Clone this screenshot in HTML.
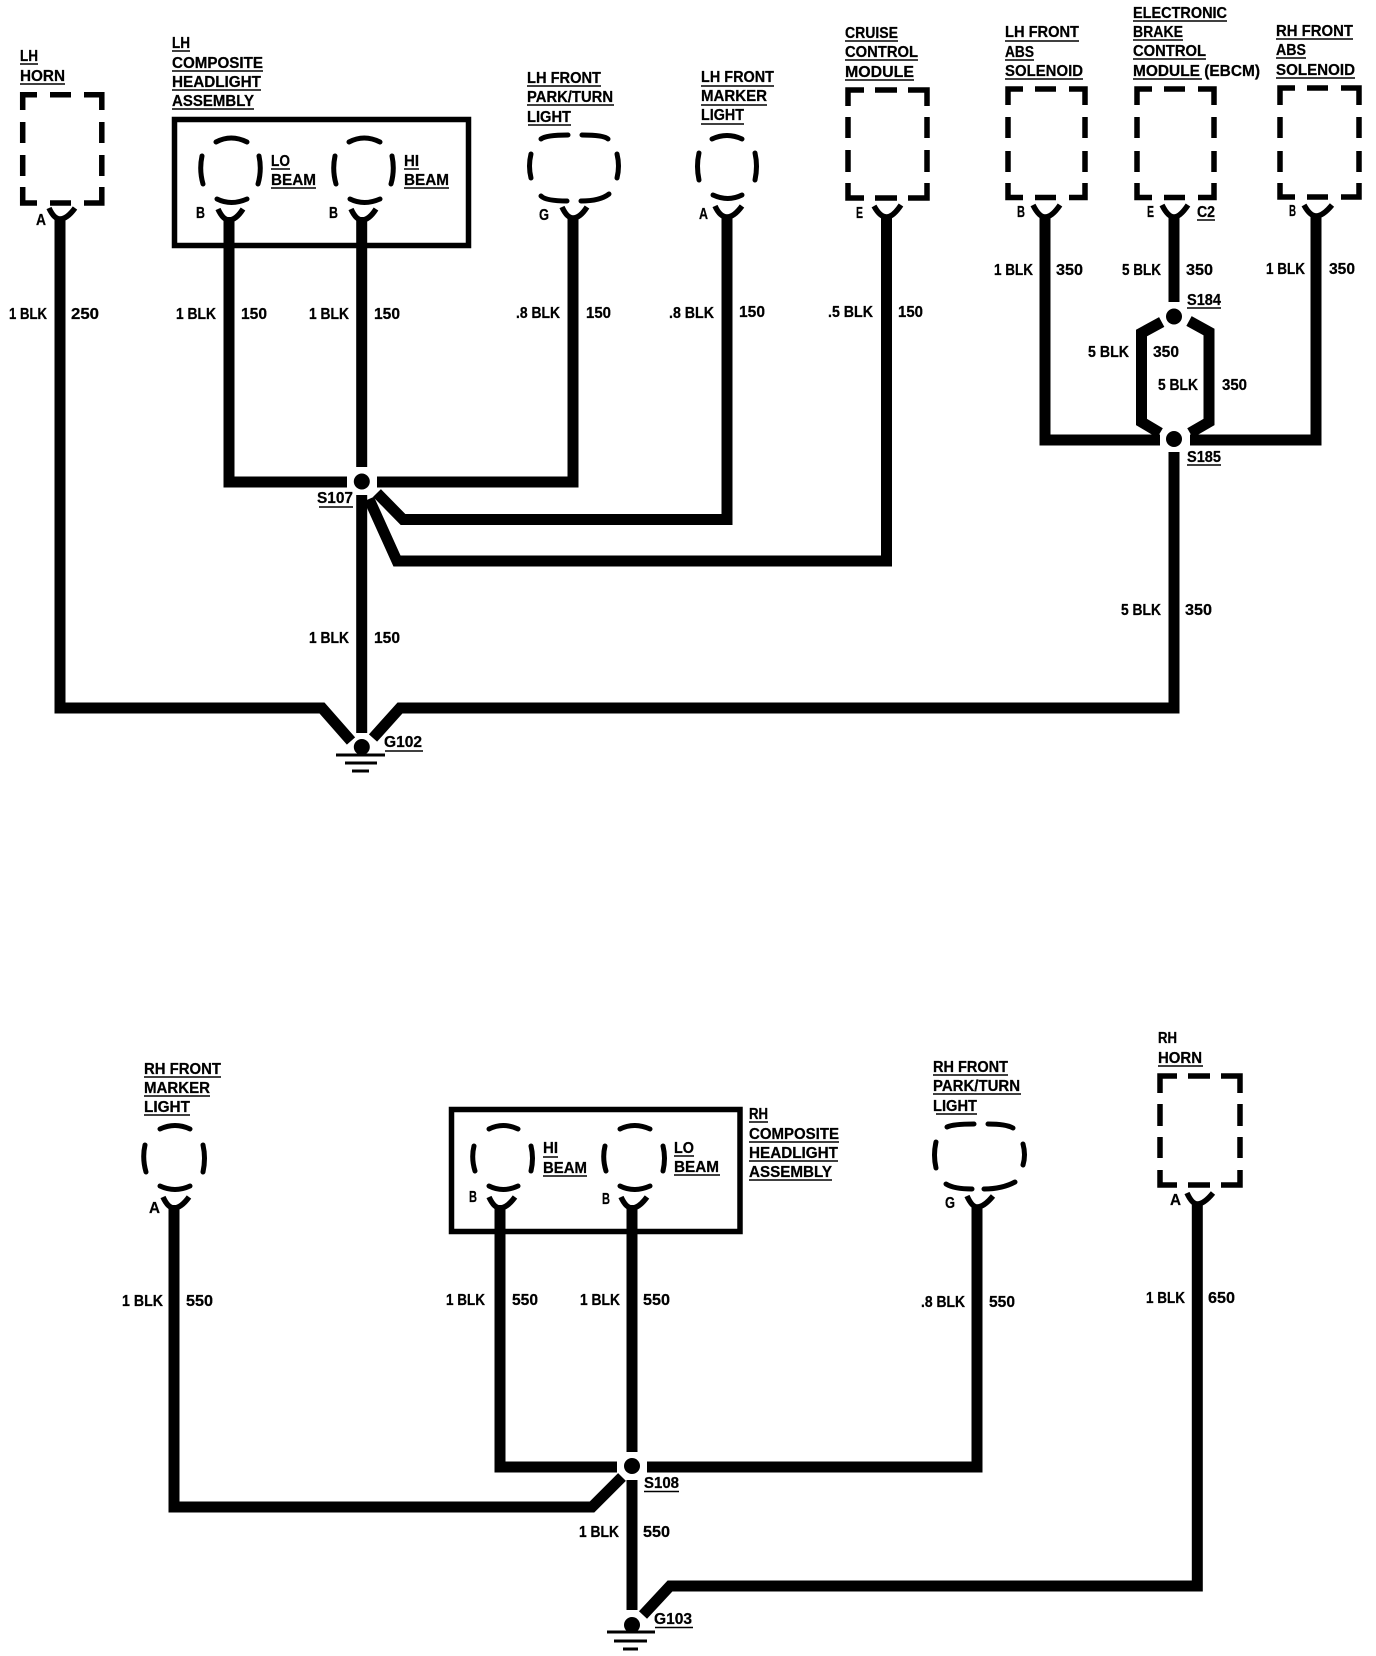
<!DOCTYPE html>
<html>
<head>
<meta charset="utf-8">
<style>
html,body{margin:0;padding:0;background:#fff;width:1376px;height:1656px;overflow:hidden}
svg{display:block}
text{font-family:"Liberation Sans",sans-serif;font-weight:bold;font-size:15.5px;fill:#000;stroke:#000;stroke-width:.25}
.w{fill:none;stroke:#000;stroke-width:11;stroke-linejoin:miter}
.d{fill:none;stroke:#000;stroke-width:5.5}
.a{fill:none;stroke:#000;stroke-width:5;stroke-linecap:round}
.y{fill:none;stroke:#000;stroke-width:5.5}
.u{fill:none;stroke:#000;stroke-width:1.6}
.b{fill:none;stroke:#000;stroke-width:5.5}
.g{fill:none;stroke:#000;stroke-width:3}
</style>
</head>
<body>
<svg xmlns="http://www.w3.org/2000/svg" width="1376" height="1656" viewBox="0 0 1376 1656">
<rect width="1376" height="1656" fill="#fff"/>

<!-- TOP WIRES -->
<path class="w" d="M60 217V708H322L351 741"/>
<path class="w" d="M229 217V482H347"/>
<path class="w" d="M573 217V482H377"/>
<path class="w" d="M361.700 217V467"/>
<path class="w" d="M361.700 495V733"/>
<path class="w" d="M377 493L403 519.500H727V217"/>
<path class="w" d="M369 499L397 561H886.500V217"/>
<path class="w" d="M373 738L400 708H1174V452"/>
<path class="w" d="M1045 217V440H1160"/>
<path class="w" d="M1174 217V302"/>
<path class="w" d="M1190 440H1316V217"/>
<path class="w" d="M1161.700 322L1141.500 333V422L1160 433"/>
<path class="w" d="M1189 321L1209 332V422L1190 433"/>
<circle cx="361.800" cy="481.500" r="8"/>
<circle cx="1174" cy="316.500" r="8"/>
<circle cx="1174" cy="439" r="8"/>
<circle cx="361.800" cy="747" r="8"/>
<path class="g" d="M336 755H385M345 763H377M352 771H369"/>

<!-- LH composite box -->
<rect class="b" x="174.500" y="119.500" width="294" height="126"/>

<!-- dashed boxes top -->
<path class="d" d="M22.700 110V94.700H37M50 94.700H71M84 94.700H101.800V110M22.700 122V143M22.700 155V176M101.800 122V143M101.800 155V176M22.700 187V203H37M50 203H71M84 203H101.800V187"/>
<path class="d" d="M848 106V90H864M875 90H897M908 90H927V106M848 117V138M848 150V172M927 117V138M927 150V172M848 183V198H864M875 198H897M908 198H927V183"/>
<path class="d" d="M1008 105V89H1023M1035 89H1056M1069 89H1085V105M1008 117V138M1008 151V172M1085 117V138M1085 151V172M1008 183V197.500H1023M1035 197.500H1056M1069 197.500H1085V183"/>
<path class="d" d="M1137 105V89H1152M1164 89H1185M1198 89H1214V105M1137 117V138M1137 151V172M1214 117V138M1214 151V172M1137 183V197.500H1152M1164 197.500H1185M1198 197.500H1214V183"/>
<path class="d" d="M1280 105V88H1295M1307 88H1328M1341 88H1359V105M1280 117V138M1280 151V172M1359 117V138M1359 151V172M1280 183V197H1295M1307 197H1328M1341 197H1359V183"/>
<path class="d" d="M1160 1093V1076H1177M1188 1076H1210M1221 1076H1240V1093M1160 1104V1126M1160 1137V1158M1240 1104V1126M1240 1137V1158M1160 1170V1185H1177M1188 1185H1210M1221 1185H1240V1170"/>

<!-- Bulbs top -->
<path class="a" d="M216 142Q231 134 247 142M202 156Q199 170 203 184M259 156Q262 170 258 184M217 199Q231 206 247 199"/>
<path class="a" d="M349 142Q364 134 380 142M335 156Q332 170 336 184M392 156Q395 170 391 184M350 199Q364 206 380 199"/>
<path class="a" d="M541 139Q546 135 568 135M582 135Q604 135 608 139M531 154Q528 166 531 178M617 154Q620 166 617 178M541 196Q546 201 567 201M581 201Q600 201 609 194"/>
<path class="a" d="M712 139Q727 132 742 139M699 153Q696 166 699 180M755 153Q758 166 755 180M713 195Q728 202 742 195"/>

<!-- Y connectors top -->
<path class="y" d="M49 208Q54 219 60 219Q67 219 75 208"/>
<path class="y" d="M218 209Q223 220 229 220Q236 220 243 209"/>
<path class="y" d="M351 209Q356 220 362 220Q369 220 376 209"/>
<path class="y" d="M562 207Q567 218 573 218Q580 218 587 207"/>
<path class="y" d="M715 206Q720 217 727 217Q734 217 742 206"/>
<path class="y" d="M874 206Q880 217 886.500 217Q893 217 901 205"/>
<path class="y" d="M1033 205Q1039 217 1045 217Q1052 217 1060 205"/>
<path class="y" d="M1162 205Q1168 217 1174 217Q1180 217 1188 205"/>
<path class="y" d="M1304 205Q1310 216 1316 216Q1323 216 1332 205"/>

<!-- TOP text -->
<text x="20" y="61" textLength="18" lengthAdjust="spacingAndGlyphs">LH</text>
<text x="20" y="81" textLength="45" lengthAdjust="spacingAndGlyphs">HORN</text>
<path class="u" d="M20 64H38M20 84H65"/>
<text x="172" y="48" textLength="18" lengthAdjust="spacingAndGlyphs">LH</text>
<text x="172" y="68" textLength="91" lengthAdjust="spacingAndGlyphs">COMPOSITE</text>
<text x="172" y="87" textLength="89" lengthAdjust="spacingAndGlyphs">HEADLIGHT</text>
<text x="172" y="106" textLength="82" lengthAdjust="spacingAndGlyphs">ASSEMBLY</text>
<path class="u" d="M172 51H190M172 71H263M172 90H261M172 109H254"/>
<text x="271" y="166" textLength="19" lengthAdjust="spacingAndGlyphs">LO</text>
<text x="271" y="185" textLength="45" lengthAdjust="spacingAndGlyphs">BEAM</text>
<path class="u" d="M271 169H290M271 188H316"/>
<text x="404" y="166" textLength="15" lengthAdjust="spacingAndGlyphs">HI</text>
<text x="404" y="185" textLength="45" lengthAdjust="spacingAndGlyphs">BEAM</text>
<path class="u" d="M404 169H419M404 188H449"/>
<text x="36" y="225" textLength="10" lengthAdjust="spacingAndGlyphs">A</text>
<text x="196" y="218" textLength="9" lengthAdjust="spacingAndGlyphs">B</text>
<text x="329" y="218" textLength="9" lengthAdjust="spacingAndGlyphs">B</text>
<text x="539" y="220" textLength="10" lengthAdjust="spacingAndGlyphs">G</text>
<text x="699" y="219" textLength="9" lengthAdjust="spacingAndGlyphs">A</text>
<text x="527" y="83" textLength="74" lengthAdjust="spacingAndGlyphs">LH FRONT</text>
<text x="527" y="102" textLength="86" lengthAdjust="spacingAndGlyphs">PARK/TURN</text>
<text x="527" y="122" textLength="44" lengthAdjust="spacingAndGlyphs">LIGHT</text>
<path class="u" d="M527 86H601M527 105H614M528 125H571"/>
<text x="701" y="82" textLength="73" lengthAdjust="spacingAndGlyphs">LH FRONT</text>
<text x="701" y="101" textLength="66" lengthAdjust="spacingAndGlyphs">MARKER</text>
<text x="701" y="120" textLength="43" lengthAdjust="spacingAndGlyphs">LIGHT</text>
<path class="u" d="M701 86H774M701 105H767M701 124H744"/>
<text x="845" y="38" textLength="53" lengthAdjust="spacingAndGlyphs">CRUISE</text>
<text x="845" y="57" textLength="73" lengthAdjust="spacingAndGlyphs">CONTROL</text>
<text x="845" y="77" textLength="69" lengthAdjust="spacingAndGlyphs">MODULE</text>
<path class="u" d="M845 41H898M845 60H918M845 80H914"/>
<text x="856" y="218" textLength="7" lengthAdjust="spacingAndGlyphs">E</text>
<text x="1005" y="37" textLength="74" lengthAdjust="spacingAndGlyphs">LH FRONT</text>
<text x="1005" y="57" textLength="29" lengthAdjust="spacingAndGlyphs">ABS</text>
<text x="1005" y="76" textLength="78" lengthAdjust="spacingAndGlyphs">SOLENOID</text>
<path class="u" d="M1005 41H1079M1005 60H1034M1005 79H1083"/>
<text x="1017" y="217" textLength="8" lengthAdjust="spacingAndGlyphs">B</text>
<text x="1133" y="18" textLength="94" lengthAdjust="spacingAndGlyphs">ELECTRONIC</text>
<text x="1133" y="37" textLength="50" lengthAdjust="spacingAndGlyphs">BRAKE</text>
<text x="1133" y="56" textLength="73" lengthAdjust="spacingAndGlyphs">CONTROL</text>
<text x="1133" y="76" textLength="127" lengthAdjust="spacingAndGlyphs">MODULE (EBCM)</text>
<path class="u" d="M1133 21H1227M1133 40H1183M1133 59H1206M1133 79H1202"/>
<text x="1147" y="217" textLength="7" lengthAdjust="spacingAndGlyphs">E</text>
<text x="1197" y="217" textLength="18" lengthAdjust="spacingAndGlyphs">C2</text>
<path class="u" d="M1197 220H1215"/>
<text x="1276" y="36" textLength="77" lengthAdjust="spacingAndGlyphs">RH FRONT</text>
<text x="1276" y="55" textLength="30" lengthAdjust="spacingAndGlyphs">ABS</text>
<text x="1276" y="75" textLength="79" lengthAdjust="spacingAndGlyphs">SOLENOID</text>
<path class="u" d="M1276 39H1353M1276 58H1306M1276 78H1355"/>
<text x="1289" y="216" textLength="7" lengthAdjust="spacingAndGlyphs">B</text>

<text x="9" y="319" textLength="38" lengthAdjust="spacingAndGlyphs">1 BLK</text>
<text x="71" y="319" textLength="28" lengthAdjust="spacingAndGlyphs">250</text>
<text x="176" y="319" textLength="40" lengthAdjust="spacingAndGlyphs">1 BLK</text>
<text x="241" y="319" textLength="26" lengthAdjust="spacingAndGlyphs">150</text>
<text x="309" y="319" textLength="40" lengthAdjust="spacingAndGlyphs">1 BLK</text>
<text x="374" y="319" textLength="26" lengthAdjust="spacingAndGlyphs">150</text>
<text x="516" y="318" textLength="44" lengthAdjust="spacingAndGlyphs">.8 BLK</text>
<text x="586" y="318" textLength="25" lengthAdjust="spacingAndGlyphs">150</text>
<text x="669" y="318" textLength="45" lengthAdjust="spacingAndGlyphs">.8 BLK</text>
<text x="739" y="317" textLength="26" lengthAdjust="spacingAndGlyphs">150</text>
<text x="828" y="317" textLength="45" lengthAdjust="spacingAndGlyphs">.5 BLK</text>
<text x="898" y="317" textLength="25" lengthAdjust="spacingAndGlyphs">150</text>
<text x="994" y="275" textLength="39" lengthAdjust="spacingAndGlyphs">1 BLK</text>
<text x="1056" y="275" textLength="27" lengthAdjust="spacingAndGlyphs">350</text>
<text x="1122" y="275" textLength="39" lengthAdjust="spacingAndGlyphs">5 BLK</text>
<text x="1186" y="275" textLength="27" lengthAdjust="spacingAndGlyphs">350</text>
<text x="1266" y="274" textLength="39" lengthAdjust="spacingAndGlyphs">1 BLK</text>
<text x="1329" y="274" textLength="26" lengthAdjust="spacingAndGlyphs">350</text>
<text x="1187" y="305" textLength="34" lengthAdjust="spacingAndGlyphs">S184</text>
<path class="u" d="M1187 308H1221"/>
<text x="1088" y="357" textLength="41" lengthAdjust="spacingAndGlyphs">5 BLK</text>
<text x="1153" y="357" textLength="26" lengthAdjust="spacingAndGlyphs">350</text>
<text x="1158" y="390" textLength="40" lengthAdjust="spacingAndGlyphs">5 BLK</text>
<text x="1222" y="390" textLength="25" lengthAdjust="spacingAndGlyphs">350</text>
<text x="1187" y="462" textLength="34" lengthAdjust="spacingAndGlyphs">S185</text>
<path class="u" d="M1187 465H1221"/>
<text x="317" y="503" textLength="36" lengthAdjust="spacingAndGlyphs">S107</text>
<path class="u" d="M319 507H353"/>
<text x="309" y="643" textLength="40" lengthAdjust="spacingAndGlyphs">1 BLK</text>
<text x="374" y="643" textLength="26" lengthAdjust="spacingAndGlyphs">150</text>
<text x="1121" y="615" textLength="40" lengthAdjust="spacingAndGlyphs">5 BLK</text>
<text x="1185" y="615" textLength="27" lengthAdjust="spacingAndGlyphs">350</text>
<text x="384" y="747" textLength="38" lengthAdjust="spacingAndGlyphs">G102</text>
<path class="u" d="M385 751H423"/>

<!-- BOTTOM WIRES -->
<path class="w" d="M174 1205V1507H592L622 1477"/>
<path class="w" d="M500 1205V1467H617"/>
<path class="w" d="M977 1205V1467H647"/>
<path class="w" d="M632 1205V1452"/>
<path class="w" d="M632 1480V1610"/>
<path class="w" d="M1197.300 1203V1586H670L643 1615"/>
<circle cx="632" cy="1466" r="8"/>
<circle cx="632" cy="1625" r="8"/>
<path class="g" d="M607 1632H655M614 1641H647M623 1649H638"/>

<rect class="b" x="451.500" y="1109.500" width="288.500" height="122"/>

<!-- Bulbs bottom -->
<path class="a" d="M160 1129Q175 1122 190 1129M145 1145Q142 1158 146 1172M203 1145Q206 1158 203 1172M160 1186Q175 1193 190 1186"/>
<path class="a" d="M489 1129Q503 1122 518 1129M474 1146Q471 1158 475 1171M531 1146Q534 1158 531 1171M489 1186Q503 1193 518 1186"/>
<path class="a" d="M620 1129Q634 1122 650 1129M605 1146Q602 1158 606 1171M663 1146Q666 1158 663 1171M620 1186Q634 1193 650 1186"/>
<path class="a" d="M947 1127Q953 1124 974 1124M988 1124Q1006 1124 1013 1128M936 1142Q933 1155 936 1168M1023 1144Q1026 1155 1023 1165M946 1184Q954 1189 972 1189M984 1189Q1002 1189 1015 1182"/>

<!-- Y bottom -->
<path class="y" d="M163 1197Q168 1208 174 1208Q181 1208 189 1197"/>
<path class="y" d="M489 1197Q494 1208 500 1208Q507 1208 515 1197"/>
<path class="y" d="M621 1197Q626 1208 632 1208Q639 1208 647 1197"/>
<path class="y" d="M967 1196Q972 1207 977 1207Q984 1207 993 1196"/>
<path class="y" d="M1187 1193Q1192 1204 1197.300 1204Q1204 1204 1213 1193"/>

<!-- BOTTOM text -->
<text x="144" y="1074" textLength="77" lengthAdjust="spacingAndGlyphs">RH FRONT</text>
<text x="144" y="1093" textLength="66" lengthAdjust="spacingAndGlyphs">MARKER</text>
<text x="144" y="1112" textLength="46" lengthAdjust="spacingAndGlyphs">LIGHT</text>
<path class="u" d="M144 1077H221M144 1096H210M144 1115H190"/>
<text x="149" y="1213" textLength="11" lengthAdjust="spacingAndGlyphs">A</text>
<text x="749" y="1119" textLength="19" lengthAdjust="spacingAndGlyphs">RH</text>
<text x="749" y="1139" textLength="90" lengthAdjust="spacingAndGlyphs">COMPOSITE</text>
<text x="749" y="1158" textLength="89" lengthAdjust="spacingAndGlyphs">HEADLIGHT</text>
<text x="749" y="1177" textLength="83" lengthAdjust="spacingAndGlyphs">ASSEMBLY</text>
<path class="u" d="M749 1122H768M749 1142H839M749 1161H838M749 1180H832"/>
<text x="543" y="1153" textLength="15" lengthAdjust="spacingAndGlyphs">HI</text>
<text x="543" y="1173" textLength="44" lengthAdjust="spacingAndGlyphs">BEAM</text>
<path class="u" d="M543 1157H558M543 1176H587"/>
<text x="674" y="1153" textLength="20" lengthAdjust="spacingAndGlyphs">LO</text>
<text x="674" y="1172" textLength="45" lengthAdjust="spacingAndGlyphs">BEAM</text>
<path class="u" d="M674 1156H694M674 1175H720"/>
<text x="469" y="1202" textLength="8" lengthAdjust="spacingAndGlyphs">B</text>
<text x="602" y="1204" textLength="8" lengthAdjust="spacingAndGlyphs">B</text>
<text x="933" y="1072" textLength="75" lengthAdjust="spacingAndGlyphs">RH FRONT</text>
<text x="933" y="1091" textLength="87" lengthAdjust="spacingAndGlyphs">PARK/TURN</text>
<text x="933" y="1111" textLength="44" lengthAdjust="spacingAndGlyphs">LIGHT</text>
<path class="u" d="M933 1075H1008M933 1094H1021M936 1114H977"/>
<text x="945" y="1208" textLength="10" lengthAdjust="spacingAndGlyphs">G</text>
<text x="1158" y="1043" textLength="19" lengthAdjust="spacingAndGlyphs">RH</text>
<text x="1158" y="1063" textLength="44" lengthAdjust="spacingAndGlyphs">HORN</text>
<path class="u" d="M1158 1066H1203"/>
<text x="1170" y="1205" textLength="11" lengthAdjust="spacingAndGlyphs">A</text>

<text x="122" y="1306" textLength="41" lengthAdjust="spacingAndGlyphs">1 BLK</text>
<text x="186" y="1306" textLength="27" lengthAdjust="spacingAndGlyphs">550</text>
<text x="446" y="1305" textLength="39" lengthAdjust="spacingAndGlyphs">1 BLK</text>
<text x="512" y="1305" textLength="26" lengthAdjust="spacingAndGlyphs">550</text>
<text x="580" y="1305" textLength="40" lengthAdjust="spacingAndGlyphs">1 BLK</text>
<text x="643" y="1305" textLength="27" lengthAdjust="spacingAndGlyphs">550</text>
<text x="921" y="1307" textLength="44" lengthAdjust="spacingAndGlyphs">.8 BLK</text>
<text x="989" y="1307" textLength="26" lengthAdjust="spacingAndGlyphs">550</text>
<text x="1146" y="1303" textLength="39" lengthAdjust="spacingAndGlyphs">1 BLK</text>
<text x="1208" y="1303" textLength="27" lengthAdjust="spacingAndGlyphs">650</text>
<text x="644" y="1488" textLength="35" lengthAdjust="spacingAndGlyphs">S108</text>
<path class="u" d="M644 1491.500H679"/>
<text x="579" y="1537" textLength="40" lengthAdjust="spacingAndGlyphs">1 BLK</text>
<text x="643" y="1537" textLength="27" lengthAdjust="spacingAndGlyphs">550</text>
<text x="654" y="1624" textLength="38" lengthAdjust="spacingAndGlyphs">G103</text>
<path class="u" d="M655 1627.500H693"/>
</svg>
</body>
</html>
